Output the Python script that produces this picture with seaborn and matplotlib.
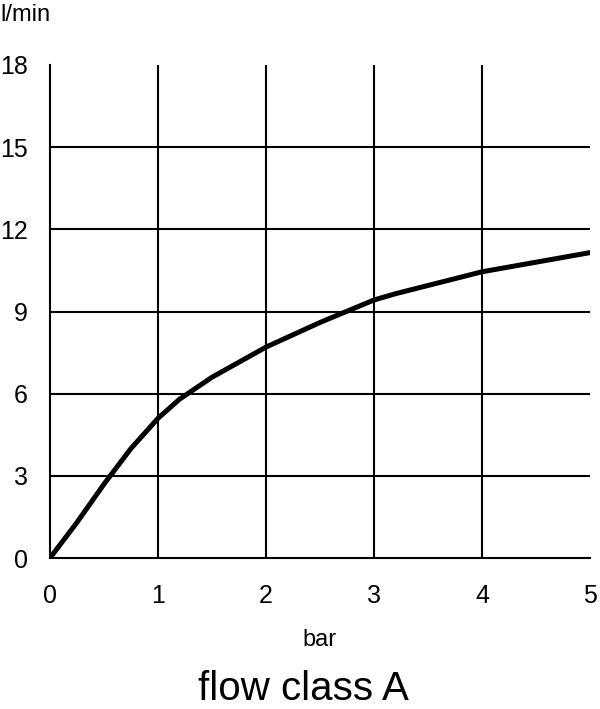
import matplotlib
matplotlib.use("Agg")
import matplotlib.pyplot as plt
import seaborn as sns
import pandas as pd

pressure_bar = [0, 0.25, 0.5, 0.75, 1.0, 1.2, 1.5, 2.0, 2.5, 3.0, 3.2, 3.5, 4.0, 4.5, 5.0]
flow_lmin = [0, 1.3, 2.7, 4.0, 5.1, 5.8, 6.6, 7.7, 8.6, 9.42, 9.65, 9.95, 10.45, 10.8, 11.15]
x_ticks = [0, 1, 2, 3, 4, 5]
y_ticks = [0, 3, 6, 9, 12, 15, 18]

df = pd.DataFrame({"bar": pressure_bar, "flow": flow_lmin})

sns.set_style("white")
plt.rcParams["font.family"] = ["Liberation Sans", "DejaVu Sans"]
plt.rcParams["text.color"] = "black"
plt.rcParams["axes.labelcolor"] = "black"

fig = plt.figure(figsize=(6, 7.09), dpi=100)
ax = fig.add_axes([50/600, 1-558/709, 540/600, (558-65)/709])

sns.lineplot(data=df, x="bar", y="flow", ax=ax, color="black", linewidth=3.6)

ax.set_xlim(0, 5)
ax.set_ylim(0, 18)
ax.set_xticks(x_ticks)
ax.set_yticks(y_ticks)
ax.grid(True, color="black", linewidth=1.5)
ax.xaxis.get_gridlines()[0].set_visible(False)
ax.xaxis.get_gridlines()[-1].set_visible(False)
ax.yaxis.get_gridlines()[0].set_visible(False)
ax.yaxis.get_gridlines()[-1].set_visible(False)
ax.set_axisbelow(True)
for s in ["top", "right"]:
    ax.spines[s].set_visible(False)
for s in ["left", "bottom"]:
    ax.spines[s].set_color("black")
    ax.spines[s].set_linewidth(1.5)
ax.tick_params(axis="both", direction="out", length=6, width=1.5, color="black",
               labelsize=18, labelcolor="black")
ax.tick_params(axis="y", pad=10)
ax.tick_params(axis="x", pad=13)
ax.set_xlabel("bar", fontsize=17, labelpad=15, color="black")
ax.set_ylabel("")

fig.text(0.0, 1-15/709, "l/min", fontsize=17, va="center", ha="left", color="black")
fig.text(303/600, 1-689/709, "flow class A", fontsize=29, va="center", ha="center", color="black")

fig.savefig("out.png", dpi=100)
